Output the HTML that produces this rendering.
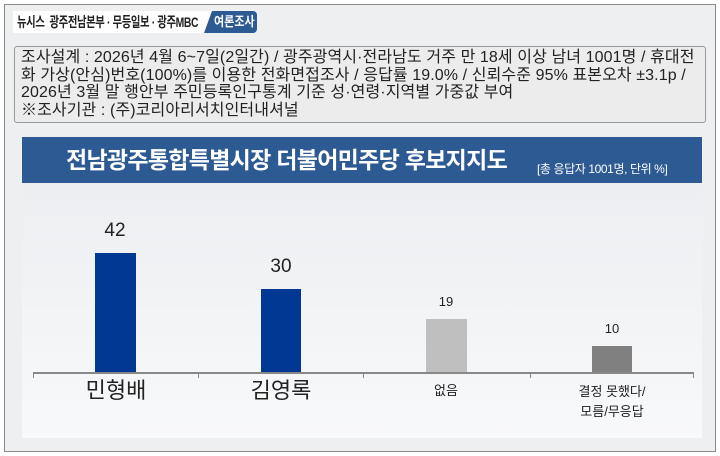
<!DOCTYPE html>
<html><head><meta charset="utf-8"><style>
*{margin:0;padding:0;box-sizing:border-box}
body{width:720px;height:456px;background:#fff;font-family:"Liberation Sans","Noto Sans CJK KR",sans-serif;position:relative;overflow:hidden}
.abs{position:absolute}
</style></head><body>
<div class="abs" style="left:4px;top:4px;width:712px;height:448px;background:#eeeff1;border:1px solid #888;"></div>
<div class="abs" style="left:13px;top:11px;width:200px;height:22px;background:#fff;"></div>
<div class="abs" style="left:17px;top:12px;font-size:14px;font-weight:bold;color:#222;line-height:20px;letter-spacing:-0.5px;white-space:nowrap;transform:scaleX(0.74);transform-origin:left">뉴시스&nbsp; 광주전남본부 · 무등일보 · 광주MBC</div>
<div class="abs" style="left:204px;top:11px;width:53px;height:22px;background:#2e5a94;clip-path:polygon(8px 0,100% 0,100% 100%,0 100%);border-radius:0 4px 4px 0"></div>
<div class="abs" style="left:214px;top:12px;font-size:13px;font-weight:bold;color:#fff;line-height:20px;white-space:nowrap;transform:scaleX(0.85);transform-origin:left">여론조사</div>
<div class="abs" style="left:14px;top:46px;width:692px;height:77px;background:#ececed;border:1px solid #999;border-radius:3px"></div>
<div class="abs" style="left:21px;top:49px;width:700px;font-size:16px;line-height:17.5px;color:#222;letter-spacing:0.1px;word-spacing:0;white-space:nowrap">조사설계 : 2026년 4월 6~7일(2일간) / 광주광역시·전라남도 거주 만 18세 이상 남녀 1001명 / 휴대전<br>화 가상(안심)번호(100%)를 이용한 전화면접조사 / 응답률 19.0% / 신뢰수준 95% 표본오차 ±3.1p /<br>2026년 3월 말 행안부 주민등록인구통계 기준 성·연령·지역별 가중값 부여<br>※조사기관 : (주)코리아리서치인터내셔널</div>
<div class="abs" style="left:22px;top:137px;width:680px;height:46px;background:#2e5a94"></div>
<div class="abs" style="left:66px;top:145px;font-size:23px;font-weight:bold;color:#fff;line-height:30px;letter-spacing:-0.7px;white-space:nowrap">전남광주통합특별시장 더불어민주당 후보지지도</div>
<div class="abs" style="left:537px;top:162px;font-size:12px;color:#fff;line-height:14px;white-space:nowrap;letter-spacing:-0.4px">[총 응답자 1001명, 단위 %]</div>
<div class="abs" style="left:22px;top:183px;width:680px;height:255px;background:linear-gradient(#eceef1,#f8f9fa)"></div>
<div class="abs" style="left:33px;top:372px;width:661px;height:2px;background:#888"></div>
<div class="abs" style="left:33px;top:372px;width:1px;height:6px;background:#888"></div>
<div class="abs" style="left:198px;top:372px;width:1px;height:6px;background:#888"></div>
<div class="abs" style="left:363px;top:372px;width:1px;height:6px;background:#888"></div>
<div class="abs" style="left:530px;top:372px;width:1px;height:6px;background:#888"></div>
<div class="abs" style="left:693px;top:372px;width:1px;height:6px;background:#888"></div>
<div class="abs" style="left:95px;top:253px;width:41px;height:119px;background:#003893"></div>
<div class="abs" style="left:261px;top:289px;width:40px;height:83px;background:#003893"></div>
<div class="abs" style="left:426px;top:319px;width:41px;height:53px;background:#bfbfbf"></div>
<div class="abs" style="left:592px;top:346px;width:40px;height:26px;background:#808080"></div>
<div class="abs" style="left:85px;top:220px;width:60px;text-align:center;font-size:19px;color:#222">42</div>
<div class="abs" style="left:251px;top:256px;width:60px;text-align:center;font-size:19px;color:#222">30</div>
<div class="abs" style="left:416px;top:294px;width:60px;text-align:center;font-size:13px;color:#222">19</div>
<div class="abs" style="left:582px;top:321px;width:60px;text-align:center;font-size:13px;color:#222">10</div>
<div class="abs" style="left:66px;top:377px;width:100px;text-align:center;font-size:22px;color:#222;line-height:28px">민형배</div>
<div class="abs" style="left:231px;top:377px;width:100px;text-align:center;font-size:22px;color:#222;line-height:28px">김영록</div>
<div class="abs" style="left:396px;top:382px;width:100px;text-align:center;font-size:13px;color:#222;line-height:18px">없음</div>
<div class="abs" style="left:562px;top:382px;width:100px;text-align:center;font-size:13px;color:#222;line-height:20px">결정 못했다/<br>모름/무응답</div>
</body></html>
